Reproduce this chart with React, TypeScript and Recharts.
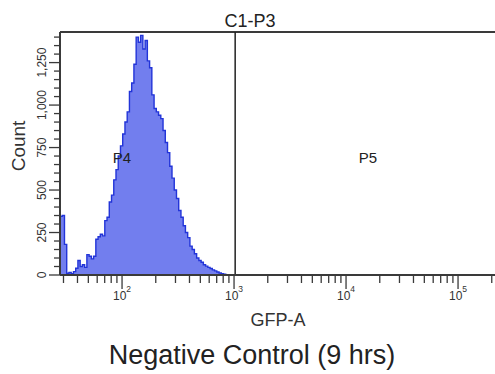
import { AreaChart, Area, XAxis, YAxis, ReferenceLine } from "recharts";

// log10(GFP-A) channel grid of the histogram
const LOG_MIN = 1.446;
const LOG_MAX = 5.33;
const BIN = 0.02;
const GATE = 3.01; // P4 | P5 boundary, log10(GFP-A)
const Y_MAX = 1430;

// events per bin
const counts = [
  345, 350, 180, 10, 15, 8, 20, 40, 85, 50, 60, 45, 120, 110, 95, 110, 210, 225, 240, 230,
  320, 340, 430, 470, 560, 620, 700, 760, 830, 900, 960, 1080, 1130, 1240, 1400, 1370, 1410,
  1330, 1380, 1260, 1220, 1060, 980, 960, 940, 920, 850, 780, 720, 640, 570, 500, 450, 380,
  340, 290, 250, 220, 170, 150, 125, 100, 85, 75, 60, 52, 45, 38, 30, 24, 18, 12, 8, 4, 2, 0,
];

const decades = [1, 2, 3, 4, 5];
const yMajor = [0, 250, 500, 750, 1000, 1250];

const data = counts.map((c, i) => ({ gfp: LOG_MIN + i * BIN, count: c }));

const xTicks: number[] = [];
decades.forEach((d) => {
  for (let m = 1; m <= 9; m++) {
    const v = d + Math.log10(m);
    if (v >= LOG_MIN && v <= LOG_MAX) xTicks.push(v);
  }
});
const yTicks: number[] = [];
for (let v = 0; v <= 1400; v += 50) yTicks.push(v);

const FONT = "'Liberation Sans', Arial, sans-serif";
const AXIS = "#3a3a3a";

function XTick({ x, y, payload }: any) {
  const v = payload.value;
  const major = Math.abs(v - Math.round(v)) < 1e-6;
  return (
    <g>
      <line x1={x} y1={y} x2={x} y2={y + (major ? 14 : 8)} stroke={AXIS} strokeWidth={1.3} />
      {major && (
        <text x={x} y={y + 25} textAnchor="middle" fontSize={12} fill="#333" fontFamily={FONT}>
          10
          <tspan dy={-8} fontSize={8.5}>
            {Math.round(v)}
          </tspan>
        </text>
      )}
    </g>
  );
}

function YTick({ x, y, payload }: any) {
  const v = payload.value;
  const major = yMajor.includes(v);
  const tx = x - 14;
  return (
    <g>
      <line x1={x - (major ? 11 : 6)} y1={y} x2={x} y2={y} stroke={AXIS} strokeWidth={1.3} />
      {major && (
        <text
          x={tx}
          y={y}
          transform={`rotate(-90, ${tx}, ${y})`}
          textAnchor="middle"
          fontSize={12}
          fill="#333"
          fontFamily={FONT}
        >
          {v.toLocaleString("en-US")}
        </text>
      )}
    </g>
  );
}

export default function App() {
  return (
    <div style={{ position: "absolute", left: 0, top: 0, width: 495, height: 374, background: "#fff" }}>
      <AreaChart width={495} height={374} data={data} margin={{ top: 32, right: 0, bottom: 0, left: 0 }}>
        <XAxis
          dataKey="gfp"
          type="number"
          domain={[LOG_MIN, LOG_MAX]}
          allowDataOverflow
          ticks={xTicks}
          interval={0}
          tick={<XTick />}
          tickLine={false}
          tickSize={0}
          tickMargin={0}
          height={99}
          axisLine={{ stroke: AXIS, strokeWidth: 2 }}
        />
        <YAxis
          type="number"
          domain={[0, Y_MAX]}
          allowDataOverflow
          ticks={yTicks}
          interval={0}
          tick={<YTick />}
          tickLine={false}
          tickSize={0}
          tickMargin={0}
          width={60}
          axisLine={{ stroke: AXIS, strokeWidth: 2 }}
        />
        <Area
          type="stepAfter"
          dataKey="count"
          stroke="#2234d8"
          strokeWidth={1.4}
          fill="#727eee"
          fillOpacity={1}
          dot={false}
          activeDot={false}
          isAnimationActive={false}
        />
        <ReferenceLine y={Y_MAX} stroke={AXIS} strokeWidth={2} />
        <ReferenceLine x={GATE} stroke="#222" strokeWidth={1.5} />
      </AreaChart>
      <svg
        width={495}
        height={374}
        style={{ position: "absolute", left: 0, top: 0, pointerEvents: "none" }}
        fontFamily={FONT}
      >
        <text x={250} y={27} textAnchor="middle" fontSize={18} fill="#222">
          C1-P3
        </text>
        <text x={122} y={163} textAnchor="middle" fontSize={15} fill="#222">
          P4
        </text>
        <text x={368} y={163} textAnchor="middle" fontSize={15} fill="#222">
          P5
        </text>
        <text x={278} y={326} textAnchor="middle" fontSize={18} fill="#333">
          GFP-A
        </text>
        <text x={25} y={146} transform="rotate(-90, 25, 146)" textAnchor="middle" fontSize={19} fill="#333">
          Count
        </text>
        <text x={252} y={364} textAnchor="middle" fontSize={27} fill="#222">
          Negative Control (9 hrs)
        </text>
      </svg>
    </div>
  );
}
